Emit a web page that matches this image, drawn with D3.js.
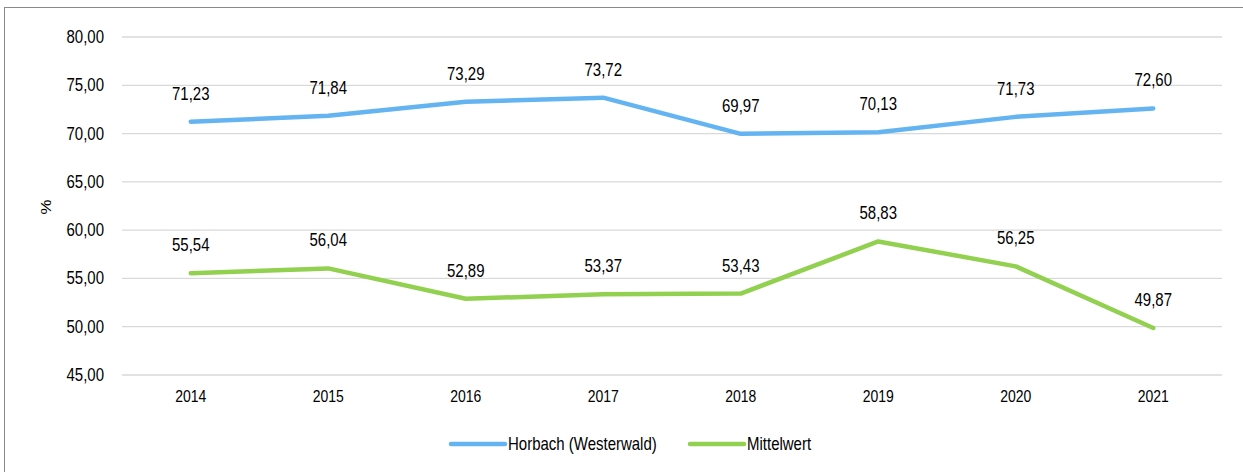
<!DOCTYPE html>
<html><head><meta charset="utf-8">
<script src="https://cdn.jsdelivr.net/npm/d3@7"></script>
<style>body{margin:0;background:#fff}svg{display:block;font-family:"Liberation Sans",Arial,sans-serif}</style>
</head><body>
<svg id="c" width="1243" height="472"></svg>
<script>
const years = ["2014","2015","2016","2017","2018","2019","2020","2021"];
const horbach = [71.23,71.84,73.29,73.72,69.97,70.13,71.73,72.60];
const mittelwert = [55.54,56.04,52.89,53.37,53.43,58.83,56.25,49.87];
const yTicks = [45,50,55,60,65,70,75,80];
const seriesNames = ["Horbach (Westerwald)","Mittelwert"];
const colors = ["#64B4F2","#92D050"];

const svg = d3.select("#c");
const fmt = v => v.toFixed(2).replace(".", ",");
const FS = 15, SY = 1.2, HALF = 0.358*FS*SY;
function txt(parent, x, yc, s, anchor, fs) {
  const f = fs || FS;
  return parent.append("text")
    .attr("transform", `translate(${x},${yc + 0.358*f*SY}) scale(1,${SY})`)
    .attr("text-anchor", anchor).attr("font-size", f).attr("fill", "#000").text(s);
}

svg.append("rect").attr("x",4.5).attr("y",7.5).attr("width",1260).attr("height",480)
  .attr("fill","none").attr("stroke","#8a8a8a").attr("stroke-width",1);

const x = d3.scalePoint().domain(years).range([122,1222]).padding(0.5);
const y = d3.scaleLinear().domain([45,80]).range([375,37]);

svg.append("g").selectAll("line").data(yTicks).join("line")
  .attr("x1",122).attr("x2",1222).attr("y1",d=>y(d)).attr("y2",d=>y(d))
  .attr("stroke","#d9d9d9").attr("stroke-width",1.3);

const yl = svg.append("g");
yTicks.forEach(v => txt(yl, 104, y(v) - 0.5, fmt(v), "end"));
const xl = svg.append("g");
years.forEach(yr => txt(xl, x(yr), 396, yr, "middle", 14));

svg.append("text").attr("transform","translate(51,207) rotate(-90) scale(1.2,1)").attr("text-anchor","middle")
  .attr("font-size",14).text("%");

const line = d3.line().x((d,i)=>x(years[i])).y(d=>y(d));
[horbach,mittelwert].forEach((s,k)=>{
  svg.append("path").datum(s).attr("d",line).attr("fill","none")
    .attr("stroke",colors[k]).attr("stroke-width",4.5).attr("stroke-linecap","round").attr("stroke-linejoin","round");
  const lg = svg.append("g");
  s.forEach((d,i) => txt(lg, x(years[i]), y(d) - 28.5, fmt(d), "middle"));
});

const legX = [451,690];
seriesNames.forEach((n,k)=>{
  svg.append("line").attr("x1",legX[k]).attr("x2",legX[k]+54).attr("y1",444).attr("y2",444)
    .attr("stroke",colors[k]).attr("stroke-width",4.5).attr("stroke-linecap","round");
  txt(svg, legX[k]+57, 444, n, "start");
});
</script>
</body></html>
